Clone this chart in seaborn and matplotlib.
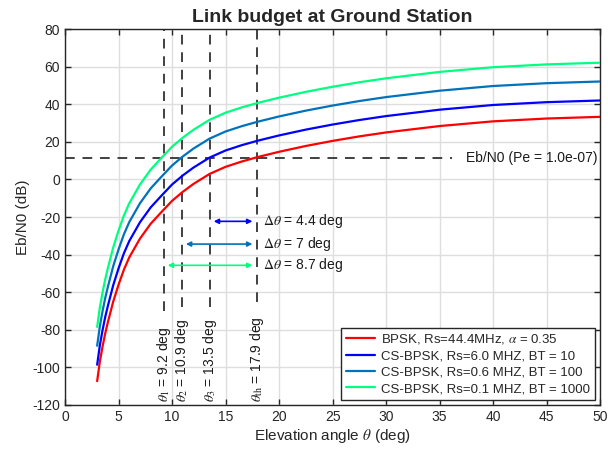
"""Link budget at the ground station: Eb/N0 vs elevation angle."""

import matplotlib

matplotlib.use("Agg")
import matplotlib.pyplot as plt
import pandas as pd
import seaborn as sns


elevation = [3, 3.25, 3.5, 3.75, 4, 4.5, 5, 5.5, 6, 7, 8, 9, 10, 11, 12, 13.5,
             15, 16.5, 18, 20, 22.5, 25, 27.5, 30, 35, 40, 45, 50]

bpsk = [-107.3, -97, -89, -82, -76, -65, -56, -48, -41.5, -31.5, -23.6, -17.4,
        -11.4, -6.6, -2.4, 2.9, 6.7, 9.5, 11.9, 14.7, 17.8, 20.5, 22.9, 25.0,
        28.4, 30.9, 32.4, 33.3]
cs_bt10 = [-98.6, -88.3, -80.3, -73.3, -67.3, -56.3, -47.3, -39.3, -32.8, -22.8,
           -14.9, -8.7, -2.7, 2.1, 6.3, 11.6, 15.4, 18.2, 20.6, 23.4, 26.5, 29.2,
           31.6, 33.7, 37.1, 39.6, 41.1, 42.0]
cs_bt100 = [-88.5, -78.2, -70.2, -63.2, -57.2, -46.2, -37.2, -29.2, -22.7, -12.7,
            -4.8, 1.4, 7.4, 12.2, 16.4, 21.7, 25.5, 28.3, 30.7, 33.5, 36.6, 39.3,
            41.7, 43.8, 47.2, 49.7, 51.2, 52.1]
cs_bt1000 = [-78.5, -68.2, -60.2, -53.2, -47.2, -36.2, -27.2, -19.2, -12.7, -2.7,
             5.2, 11.4, 17.4, 22.2, 26.4, 31.7, 35.5, 38.3, 40.7, 43.5, 46.6, 49.3,
             51.7, 53.8, 57.2, 59.7, 61.2, 62.1]

series_names = [
    r"BPSK, Rs=44.4MHz, $\alpha$ = 0.35",
    "CS-BPSK, Rs=6.0 MHZ, BT = 10",
    "CS-BPSK, Rs=0.6 MHZ, BT = 100",
    "CS-BPSK, Rs=0.1 MHZ, BT = 1000",
]
series_colors = ["#ff0000", "#0000ff", "#0072bd", "#00ff80"]

threshold_db = 11.6
threshold_label = "Eb/N0 (Pe = 1.0e-07)"
theta_values = [9.2, 10.9, 13.5, 17.9]
theta_names = [r"$\theta_1$", r"$\theta_2$", r"$\theta_3$", r"$\theta_{\rm th}$"]
delta_values = ["4.4", "7", "8.7"]
delta_levels = [-22.3, -34.4, -45.7]

x_ticks = list(range(0, 51, 5))
y_ticks = list(range(-120, 81, 20))


sns.set_style("ticks")
plt.rcParams["font.family"] = ["Liberation Sans", "DejaVu Sans"]
plt.rcParams["mathtext.fontset"] = "stix"
plt.rcParams["axes.unicode_minus"] = False

frames = []
for name, values in zip(series_names, [bpsk, cs_bt10, cs_bt100, cs_bt1000]):
    frames.append(pd.DataFrame({"elevation": elevation, "ebn0": values, "series": name}))
df = pd.concat(frames, ignore_index=True)

fig = plt.figure(figsize=(6.08, 4.54), dpi=100)
ax = fig.add_axes([0.107, 0.108, 0.88, 0.828])

sns.lineplot(
    data=df,
    x="elevation",
    y="ebn0",
    hue="series",
    hue_order=series_names,
    palette=series_colors,
    linewidth=1.6,
    errorbar=None,
    ax=ax,
    zorder=3,
)

ax.set_xlim(0, 50)
ax.set_ylim(-120, 80)
ax.set_xticks(x_ticks)
ax.set_yticks(y_ticks)
ax.grid(True, color="#dedede", linewidth=1.0)
ax.set_axisbelow(True)
ax.tick_params(direction="in", top=True, right=True, length=4, width=1.0,
               labelsize=10, colors="#262626")
for side in ax.spines.values():
    side.set_color("#262626")
    side.set_linewidth(1.0)

# threshold line and label
dash_color = "#404040"
ax.plot([0, 36.2], [threshold_db, threshold_db], ls=(0, (5, 4)),
        color=dash_color, lw=1.4, zorder=2)
ax.text(49.8, threshold_db, threshold_label, ha="right", va="center",
        fontsize=10, color="#1a1a1a")

# elevation markers with inline labels
label_tops = [-70, -68, -68, -65]
for theta, name, top in zip(theta_values, theta_names, label_tops):
    frac = (top - (-120)) / 200
    ax.axvline(theta, ymin=frac, ymax=1, ls=(0, (5, 4)), color=dash_color,
               lw=1.4, zorder=2)
    ax.text(theta, -118.5, f"{name} = {theta} deg", rotation=90, ha="center",
            va="bottom", fontsize=10, color="#1a1a1a")

# delta theta arrows
for theta, color, level, dtxt in zip(theta_values[:3][::-1], series_colors[1:],
                                     delta_levels, delta_values):
    ax.annotate("", xy=(theta_values[3], level), xytext=(theta, level),
                arrowprops=dict(arrowstyle="<|-|>", color=color, lw=1.2,
                                mutation_scale=7, shrinkA=3, shrinkB=3))
    ax.text(18.5, level, rf"$\Delta\theta$ = {dtxt} deg", ha="left",
            va="center", fontsize=10, color="#1a1a1a")

ax.set_title("Link budget at Ground Station", fontsize=14, fontweight="bold",
             pad=5)
ax.set_xlabel(r"Elevation angle $\theta$ (deg)", fontsize=11, labelpad=2)
ax.set_ylabel("Eb/N0 (dB)", fontsize=11, labelpad=2)

leg = ax.legend(loc="lower right", fontsize=9.5, frameon=True, fancybox=False,
                edgecolor="#262626", framealpha=1, handlelength=2.2,
                borderpad=0.35, labelspacing=0.3, handletextpad=0.5,
                borderaxespad=0.4)
leg.get_frame().set_linewidth(1.0)
for line in leg.get_lines():
    line.set_linewidth(1.6)

fig.savefig("out.png", dpi=100)
plt.close(fig)
